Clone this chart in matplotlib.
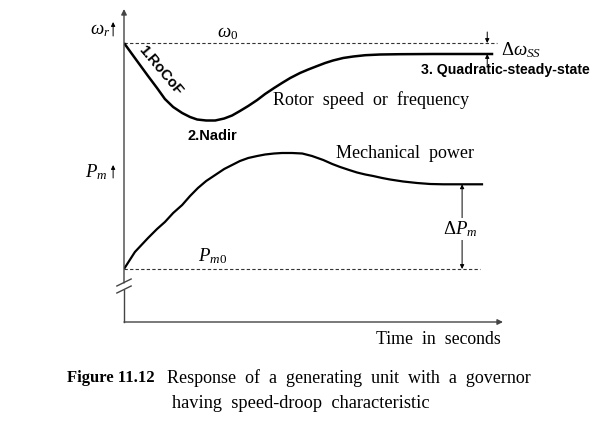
import matplotlib
matplotlib.use("Agg")
import matplotlib.pyplot as plt

plt.rcParams['mathtext.fontset'] = 'custom'
plt.rcParams['mathtext.rm'] = 'Liberation Serif'
plt.rcParams['mathtext.it'] = 'Liberation Serif:italic'
plt.rcParams['mathtext.bf'] = 'Liberation Serif:bold'

# rotor speed (time in s, arbitrary vertical units)
t_rotor = [0.00, 0.29, 0.64, 0.88, 1.09, 1.31, 1.55, 1.76, 1.95, 2.19, 2.43,
           2.67, 2.88, 3.09, 3.31, 3.55, 3.76, 4.00, 4.21, 4.43, 4.69, 4.91,
           5.15, 5.36, 5.57, 5.84, 6.11, 6.43, 6.83, 7.36, 8.24, 9.84]
w_rotor = [27.90, 26.40, 24.60, 23.40, 22.30, 21.50, 20.90, 20.50, 20.25,
           20.15, 20.15, 20.35, 20.65, 21.10, 21.60, 22.20, 22.80, 23.40,
           23.90, 24.40, 24.90, 25.25, 25.60, 25.90, 26.15, 26.40, 26.55,
           26.68, 26.75, 26.78, 26.80, 26.80]
w0 = 27.9
w_ss = 26.8

# mechanical power
t_pm = [0.00, 0.29, 0.64, 0.88, 1.09, 1.31, 1.55, 1.76, 1.97, 2.19, 2.43,
        2.67, 2.88, 3.09, 3.31, 3.55, 3.76, 4.00, 4.21, 4.48, 4.75, 5.01,
        5.31, 5.55, 5.76, 6.00, 6.21, 6.43, 6.64, 6.88, 7.09, 7.44, 7.81,
        8.16, 8.51, 9.57]
p_mech = [5.30, 7.00, 8.40, 9.30, 10.00, 10.90, 11.70, 12.60, 13.40, 14.10,
          14.70, 15.30, 15.70, 16.10, 16.40, 16.60, 16.75, 16.85, 16.90, 16.90,
          16.85, 16.60, 16.20, 15.80, 15.50, 15.20, 14.95, 14.75, 14.60, 14.40,
          14.25, 14.05, 13.90, 13.80, 13.77, 13.77]
pm0 = 5.3
pm_ss = 13.77

serif = 'Liberation Serif'
sans = 'Liberation Sans'

fig = plt.figure(figsize=(6, 4.29), dpi=100)
ax = fig.add_axes([124/600, 107/429, 379/600, 310/429])
ax.set_xlim(0, 10.1)
ax.set_ylim(0, 31.0)
ax.axis('off')

axc = '#444444'
# axes with arrows and a break on the vertical one
ax.plot([0, 0], [0, 3.2], color=axc, lw=1, clip_on=False)
ax.annotate('', xy=(0, 31.3), xytext=(0, 3.9),
            arrowprops=dict(arrowstyle='-|>', color=axc, lw=1,
                            mutation_scale=8, shrinkA=0, shrinkB=0),
            annotation_clip=False)
ax.annotate('', xy=(10.1, 0), xytext=(0, 0),
            arrowprops=dict(arrowstyle='-|>', color=axc, lw=1,
                            mutation_scale=8, shrinkA=0, shrinkB=0))
ax.plot([-0.19, 0.19], [2.9, 3.6], color=axc, lw=1, clip_on=False)
ax.plot([-0.19, 0.19], [3.6, 4.3], color=axc, lw=1, clip_on=False)

# reference levels
ax.plot([0, 9.95], [w0, w0], color='#333333', lw=0.8, ls=(0, (3, 2)))
ax.plot([0, 9.49], [pm0, pm0], color='#333333', lw=0.8, ls=(0, (3, 2)))

# curves
ax.plot(t_rotor, w_rotor, color='black', lw=1.8, solid_joinstyle='round',
        solid_capstyle='butt')
ax.plot(t_pm, p_mech, color='black', lw=1.6, solid_joinstyle='round',
        solid_capstyle='butt')

# delta omega arrows
ax.annotate('', xy=(9.68, w0), xytext=(9.68, 29.0),
            arrowprops=dict(arrowstyle='-|>', color='black', lw=0.7,
                            mutation_scale=6, shrinkA=0, shrinkB=0))
ax.annotate('', xy=(9.68, w_ss), xytext=(9.68, 25.6),
            arrowprops=dict(arrowstyle='-|>', color='black', lw=0.7,
                            mutation_scale=6, shrinkA=0, shrinkB=0))
# delta Pm arrow
ax.annotate('', xy=(9.01, pm_ss), xytext=(9.01, pm0),
            arrowprops=dict(arrowstyle='<|-|>', color='black', lw=0.7,
                            mutation_scale=6, shrinkA=0, shrinkB=0))

# axis-side labels
ax.text(-0.64, 29.3, r'$\omega_r$', fontsize=13.5, ha='center', va='center')
ax.annotate('', xy=(-0.29, 30.0), xytext=(-0.29, 28.6),
            arrowprops=dict(arrowstyle='-|>', color='black', lw=0.7,
                            mutation_scale=6, shrinkA=0, shrinkB=0),
            annotation_clip=False)
ax.text(-0.75, 15.0, r'$P_m$', fontsize=13.5, ha='center', va='center')
ax.annotate('', xy=(-0.29, 15.7), xytext=(-0.29, 14.4),
            arrowprops=dict(arrowstyle='-|>', color='black', lw=0.7,
                            mutation_scale=6, shrinkA=0, shrinkB=0),
            annotation_clip=False)

ax.text(2.75, 29.0, r'$\omega_0$', fontsize=13.5, ha='center', va='center')
ax.text(2.35, 6.6, r'$P_{\mathit{m0}}$', fontsize=13.5, ha='center', va='center')
ax.text(8.96, 9.3, r'$\Delta P_m$', fontsize=13.5, ha='center', va='center',
        bbox=dict(facecolor='white', edgecolor='none', pad=1))
ax.text(10.59, 27.2, r'$\Delta\omega_{SS}$', fontsize=13.5, ha='center',
        va='center', clip_on=False)

ax.text(6.59, 22.2, 'Rotor  speed  or  frequency', family=serif, fontsize=13,
        ha='center', va='center')
ax.text(7.49, 16.8, 'Mechanical  power', family=serif, fontsize=13,
        ha='center', va='center')
ax.text(8.37, -1.8, 'Time  in  seconds', family=serif, fontsize=12.8,
        ha='center', va='center')

ax.text(0.98, 25.15, '1.RoCoF', family=sans, weight='bold', fontsize=10.5,
        rotation=-50, rotation_mode='anchor', ha='center', va='center')
ax.text(2.35, 18.6, '2.Nadir', family=sans, weight='bold', fontsize=10.5,
        ha='center', va='center')
ax.text(10.16, 25.2, '3. Quadratic-steady-state', family=sans, weight='bold',
        fontsize=10.2, ha='center', va='center', clip_on=False)

# caption
fig.text(67/600, 1 - 378/429, 'Figure 11.12', family=serif, weight='bold',
         fontsize=12, ha='left', va='center')
fig.text(167/600, 1 - 378/429, 'Response  of  a  generating  unit  with  a  governor',
         family=serif, fontsize=13, ha='left', va='center')
fig.text(172/600, 1 - 403/429, 'having  speed-droop  characteristic',
         family=serif, fontsize=13.2, ha='left', va='center')

fig.savefig('out.png', dpi=100, facecolor='white')
